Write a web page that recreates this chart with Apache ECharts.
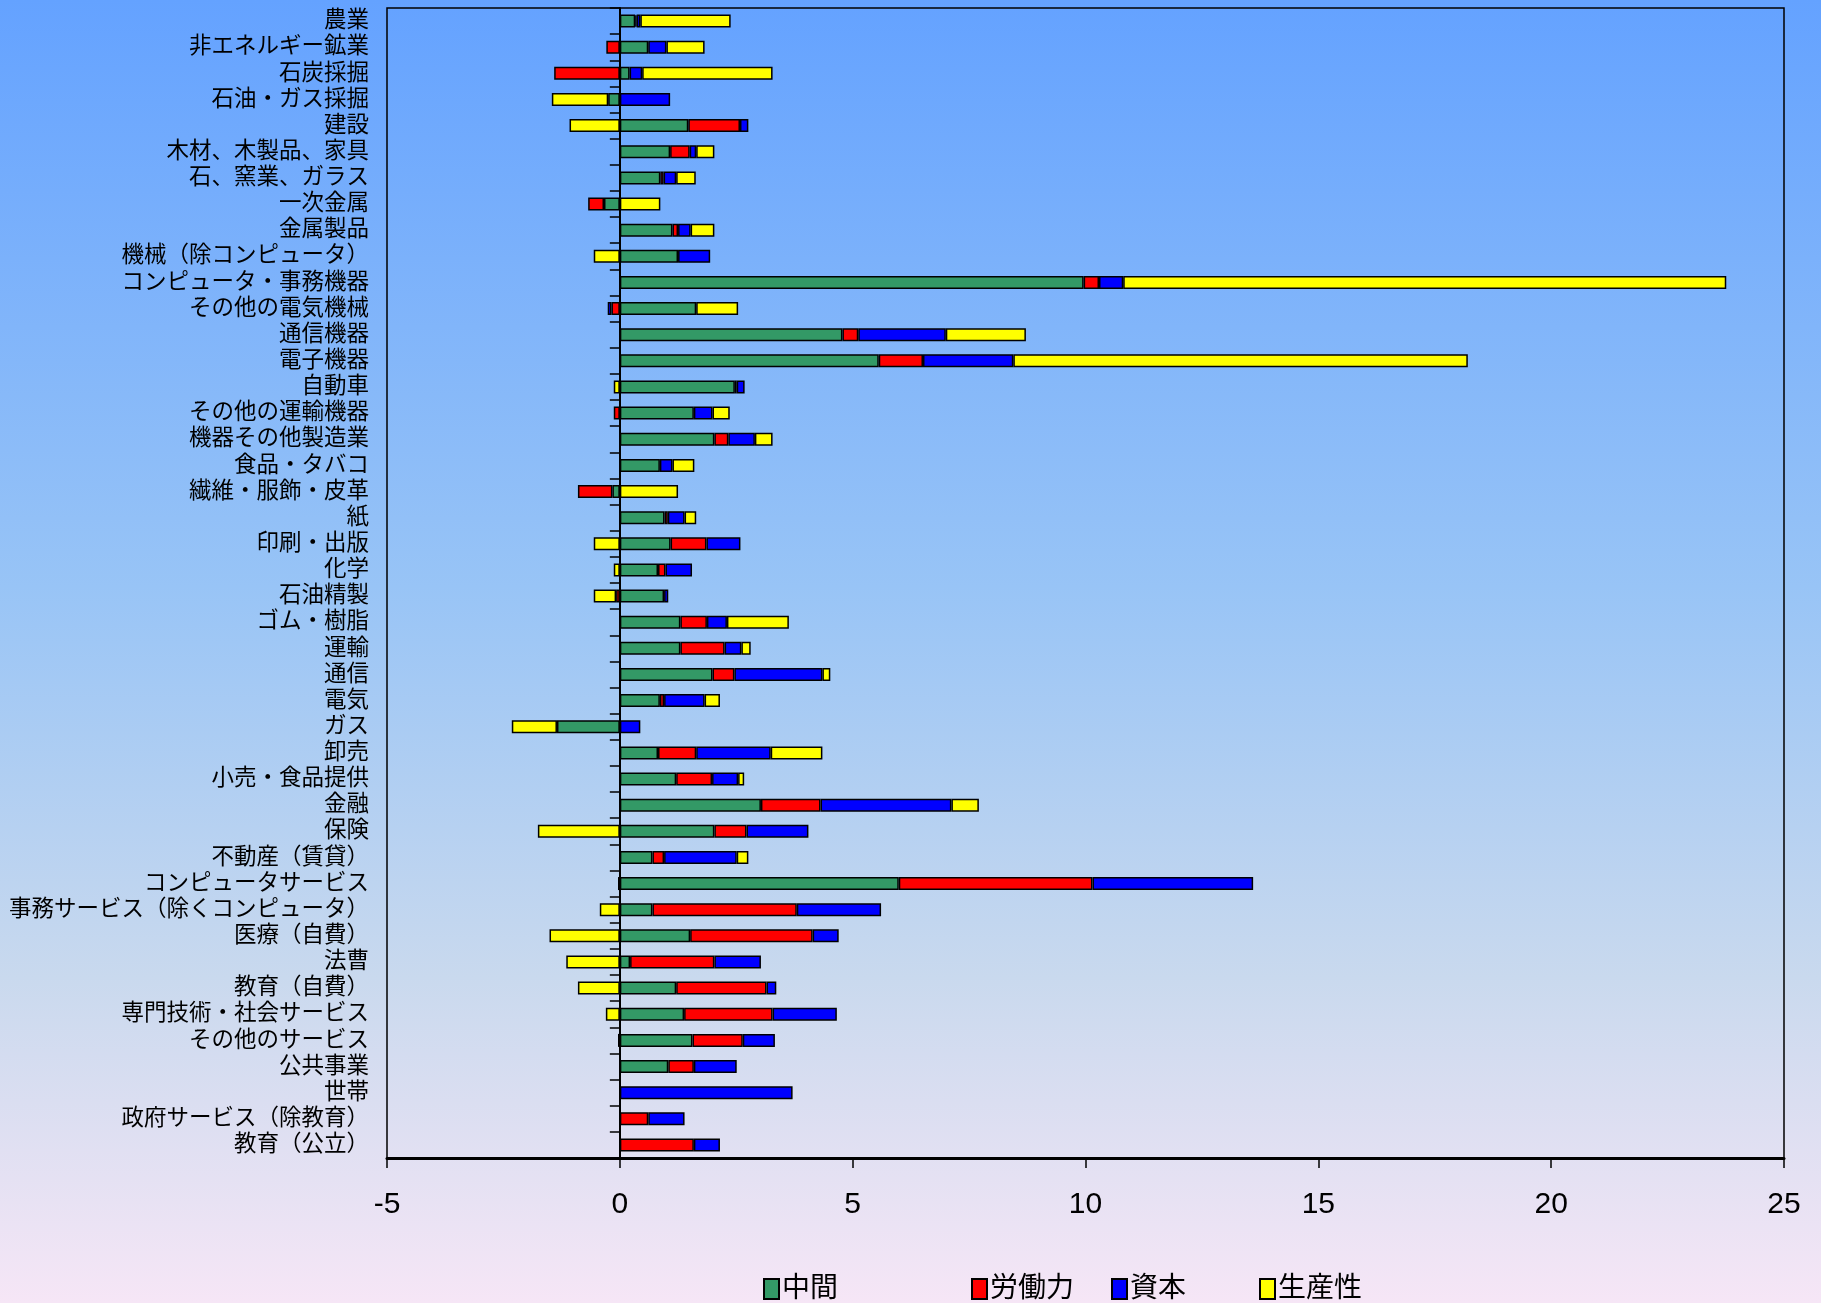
<!DOCTYPE html>
<html>
<head>
<meta charset="utf-8">
<script src="https://cdn.jsdelivr.net/npm/echarts@6/dist/echarts.min.js"></script>
<style>
  html, body { margin: 0; padding: 0; }
  #chart { width: 1821px; height: 1303px; }
</style>
</head>
<body>
<div id="chart"></div>
<script>
// 産業別の成長寄与（中間・労働力・資本・生産性）
const categories = [
  '農業', '非エネルギー鉱業', '石炭採掘', '石油・ガス採掘', '建設',
  '木材、木製品、家具', '石、窯業、ガラス', '一次金属', '金属製品', '機械（除コンピュータ）',
  'コンピュータ・事務機器', 'その他の電気機械', '通信機器', '電子機器', '自動車',
  'その他の運輸機器', '機器その他製造業', '食品・タバコ', '繊維・服飾・皮革', '紙',
  '印刷・出版', '化学', '石油精製', 'ゴム・樹脂', '運輸',
  '通信', '電気', 'ガス', '卸売', '小売・食品提供',
  '金融', '保険', '不動産（賃貸）', 'コンピュータサービス', '事務サービス（除くコンピュータ）',
  '医療（自費）', '法曹', '教育（自費）', '専門技術・社会サービス', 'その他のサービス',
  '公共事業', '世帯', '政府サービス（除教育）', '教育（公立）'
];

const intermediate = [
  0.33, 0.61, 0.21, -0.25, 1.47,
  1.08, 0.87, -0.34, 1.13, 1.25,
  9.96, 1.64, 4.78, 5.56, 2.47,
  1.59, 2.03, 0.86, -0.16, 0.96,
  1.09, 0.82, 0.95, 1.30, 1.30,
  1.99, 0.86, -1.35, 0.82, 1.21,
  3.03, 2.03, 0.70, 5.99, 0.70,
  1.51, 0.22, 1.21, 1.38, 1.56,
  1.04, null, null, null
];

const labor = [
  0.03, -0.29, -1.41, null, 1.11,
  0.42, 0.07, -0.34, 0.12, null,
  0.33, -0.18, 0.34, 0.95, 0.04,
  -0.13, 0.30, null, -0.74, 0.07,
  0.77, 0.16, -0.08, 0.57, 0.95,
  0.47, 0.09, null, 0.82, 0.77,
  1.28, 0.69, 0.25, 4.16, 3.10,
  2.63, 1.81, 1.94, 1.90, 1.08,
  0.55, null, 0.61, 1.59
];

const capital = [
  0.08, 0.39, 0.27, 1.08, 0.18,
  0.14, 0.27, null, 0.27, 0.69,
  0.52, -0.08, 1.88, 1.94, 0.17,
  0.40, 0.57, 0.27, null, 0.36,
  0.73, 0.57, 0.09, 0.43, 0.36,
  1.89, 0.87, 0.44, 1.60, 0.56,
  2.81, 1.33, 1.56, 3.45, 1.81,
  0.56, 1.00, 0.21, 1.38, 0.69,
  0.92, 3.71, 0.78, 0.56
];

const productivity = [
  1.94, 0.82, 2.80, -1.21, -1.08,
  0.39, 0.42, 0.87, 0.51, -0.56,
  12.95, 0.90, 1.72, 9.76, -0.13,
  0.37, 0.38, 0.47, 1.25, 0.25,
  -0.56, -0.13, -0.48, 1.33, 0.20,
  0.17, 0.33, -0.97, 1.11, 0.13,
  0.59, -1.76, 0.25, -0.04, -0.43,
  -1.51, -1.15, -0.90, -0.30, -0.04,
  null, null, null, null
];

const xTicks = { min: -5, max: 25, step: 5 };

const seriesDefs = [
  { name: '中間', data: intermediate, color: '#339966' },
  { name: '労働力', data: labor, color: '#FF0000' },
  { name: '資本', data: capital, color: '#0000FF' },
  { name: '生産性', data: productivity, color: '#FFFF00' }
];

const legendLeft = [763, 971, 1111, 1259];

const FONT = '"Liberation Sans", "Noto Sans CJK JP", sans-serif';
const chart = echarts.init(document.getElementById('chart'));

chart.setOption({
  animation: false,
  backgroundColor: new echarts.graphic.LinearGradient(0, 0, 0, 1, [
    { offset: 0, color: '#64A2FF' },
    { offset: 0.45, color: '#98C4F6' },
    { offset: 0.75, color: '#C9D9EE' },
    { offset: 1, color: '#F6E6F6' }
  ]),
  textStyle: { fontFamily: FONT },
  grid: {
    left: 387, top: 8, right: 37, bottom: 145,
    containLabel: false,
    outerBoundsMode: 'none',
    show: true,
    borderColor: '#000',
    borderWidth: 1.5,
    backgroundColor: 'transparent'
  },
  legend: seriesDefs.map((s, i) => ({
    data: [s.name],
    left: legendLeft[i],
    top: 1275,
    icon: 'rect',
    itemWidth: 15,
    itemHeight: 20,
    itemGap: 4,
    padding: 0,
    textStyle: { fontSize: 28, color: '#000', fontFamily: FONT, padding: [0, 0, 0, -2] }
  })),
  xAxis: {
    type: 'value',
    min: xTicks.min,
    max: xTicks.max,
    interval: xTicks.step,
    splitLine: { show: false },
    axisLine: { show: true, onZero: false, lineStyle: { color: '#000', width: 3 } },
    axisTick: { show: true, length: 10, lineStyle: { color: '#000', width: 1.5 } },
    axisLabel: { fontSize: 30, color: '#000', margin: 32, fontFamily: FONT }
  },
  yAxis: [
    {
      type: 'category',
      data: categories,
      inverse: true,
      position: 'left',
      axisLine: { show: false, onZero: false },
      axisTick: { show: false },
      axisLabel: {
        interval: 0, hideOverlap: false,
        fontSize: 22.5, color: '#000', margin: 18, fontFamily: FONT
      }
    },
    {
      type: 'category',
      data: categories,
      inverse: true,
      position: 'left',
      axisLine: { show: true, onZero: true, lineStyle: { color: '#000', width: 2 } },
      axisTick: { show: true, interval: 0, length: 10, lineStyle: { color: '#000', width: 1.5 } },
      axisLabel: { show: false }
    }
  ],
  series: seriesDefs.map(s => ({
    name: s.name,
    type: 'bar',
    stack: 'total',
    yAxisIndex: 0,
    barWidth: 13,
    data: s.data,
    itemStyle: { color: s.color, borderColor: '#000', borderWidth: 1.5 }
  }))
});
</script>
</body>
</html>
